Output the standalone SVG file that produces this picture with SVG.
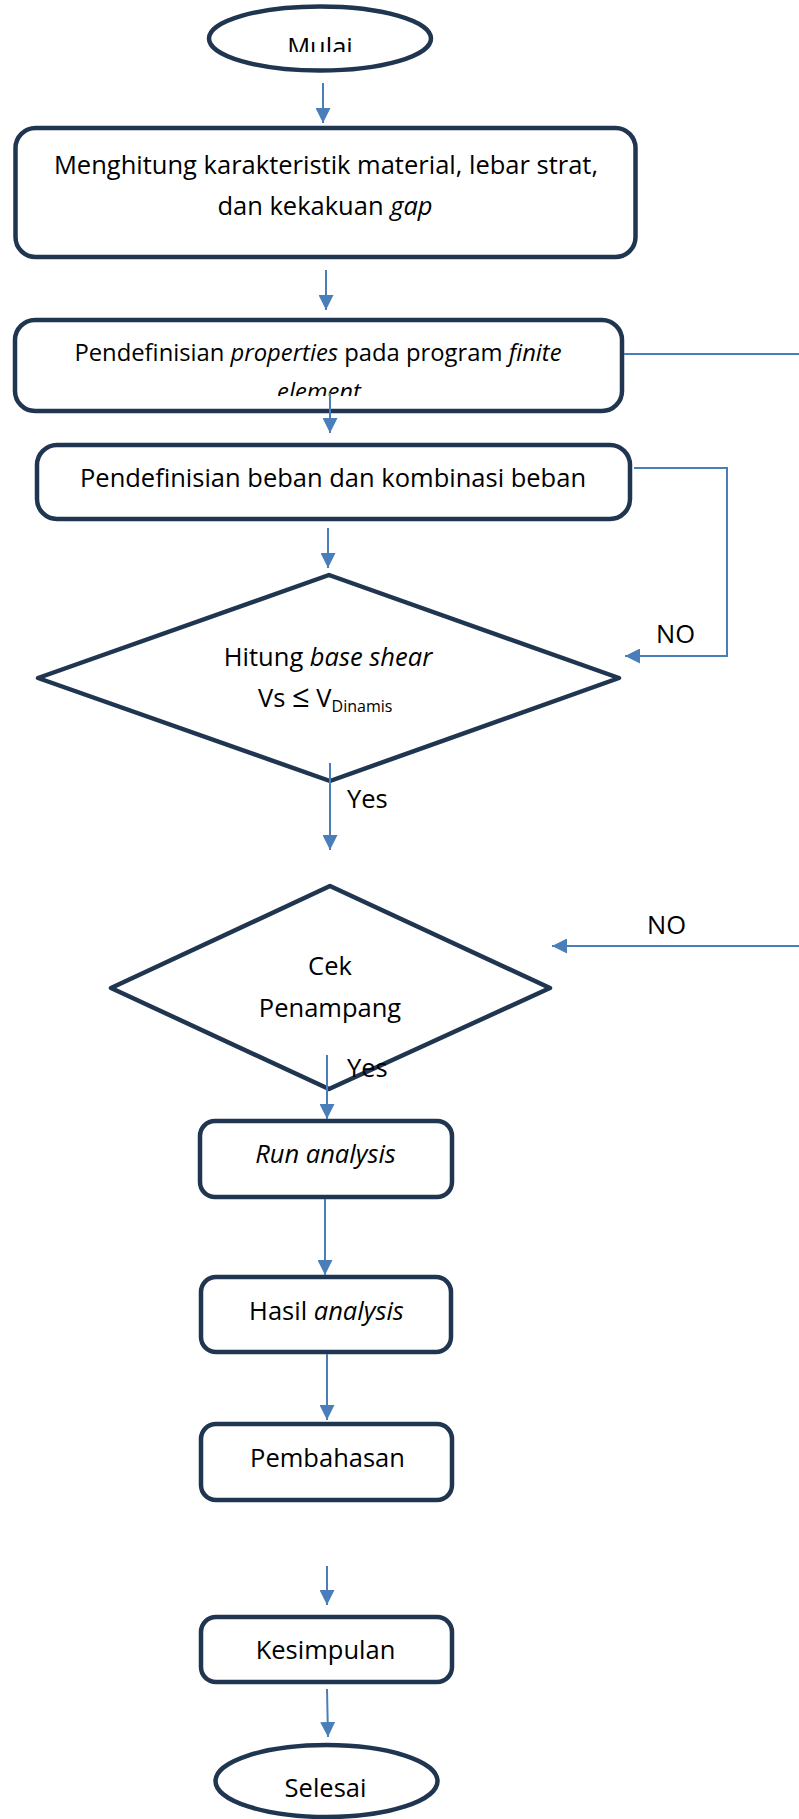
<svg xmlns="http://www.w3.org/2000/svg" width="799" height="1819" viewBox="0 0 799 1819">
<style>
.node{fill:#ffffff;stroke:#1F3550;stroke-width:4.5;stroke-linejoin:round}
.t{font-family:"Open Sans","Liberation Sans",sans-serif;font-size:25.5px;fill:#000000}
.s{font-size:23.8px}
.m{text-anchor:middle}
.i{font-style:italic}
.c{fill:none;stroke:#4A7EBB;stroke-width:2}
</style>
<defs>
<marker id="ah" viewBox="0 0 10 10" refX="10" refY="5" markerWidth="15" markerHeight="15" markerUnits="userSpaceOnUse" orient="auto">
<path d="M0,0 L10,5 L0,10 z" fill="#4A7EBB"/>
</marker>
<clipPath id="clipMulai"><rect x="200" y="0" width="240" height="52"/></clipPath>
<clipPath id="clipElement"><rect x="20" y="330" width="600" height="66"/></clipPath>
</defs>
<rect width="799" height="1819" fill="#ffffff"/>

<g id="mulai">
<ellipse class="node" cx="320" cy="38.5" rx="111" ry="32"/>
<text class="t m" x="320" y="56" clip-path="url(#clipMulai)">Mulai</text>
</g>

<g id="hitung-material">
<rect class="node" x="15.5" y="128" width="620" height="129" rx="20"/>
<text class="t m" x="326" y="174">Menghitung karakteristik material, lebar strat,</text>
<text class="t m" x="325" y="215">dan kekakuan <tspan class="i">gap</tspan></text>
</g>

<g id="properties">
<rect class="node" x="15" y="320" width="607" height="91" rx="20"/>
<text class="t s m" x="318" y="361">Pendefinisian <tspan class="i">properties</tspan> pada program <tspan class="i">finite</tspan></text>
<text class="t s m i" x="319" y="400" clip-path="url(#clipElement)">element</text>
</g>

<g id="beban">
<rect class="node" x="37" y="445" width="593" height="74" rx="20"/>
<text class="t m" x="333" y="487">Pendefinisian beban dan kombinasi beban</text>
</g>

<g id="base-shear">
<polygon class="node" points="329,575 619,678 330,781 38,678"/>
<text class="t m" x="328" y="666">Hitung <tspan class="i">base shear</tspan></text>
<text class="t" x="258" y="707">Vs <tspan font-size="31">≤</tspan> V<tspan font-size="16" dy="5">Dinamis</tspan></text>
</g>

<g id="cek-penampang">
<polygon class="node" points="330,886 550,988 329,1089 111,988"/>
<text class="t m" x="330" y="975">Cek</text>
<text class="t m" x="330" y="1017">Penampang</text>
</g>

<g id="run-analysis">
<rect class="node" x="200" y="1121" width="252" height="76" rx="15"/>
<text class="t m i" x="325.5" y="1163">Run analysis</text>
</g>

<g id="hasil-analysis">
<rect class="node" x="201" y="1277" width="250" height="75" rx="15"/>
<text class="t m" x="326.5" y="1320">Hasil <tspan class="i">analysis</tspan></text>
</g>

<g id="pembahasan">
<rect class="node" x="201" y="1424" width="251" height="76" rx="15"/>
<text class="t m" x="327.5" y="1467">Pembahasan</text>
</g>

<g id="kesimpulan">
<rect class="node" x="201" y="1617" width="251" height="65" rx="15"/>
<text class="t m" x="325.5" y="1659">Kesimpulan</text>
</g>

<g id="selesai">
<ellipse class="node" cx="326.5" cy="1781" rx="111" ry="36"/>
<text class="t m" x="325.5" y="1797">Selesai</text>
</g>

<g id="connectors">
<path class="c" d="M323,83 V123" marker-end="url(#ah)"/>
<path class="c" d="M326,270 V310" marker-end="url(#ah)"/>
<path class="c" d="M330,393 V433" marker-end="url(#ah)"/>
<path class="c" d="M328,528 V568" marker-end="url(#ah)"/>
<path class="c" d="M330,763 V850" marker-end="url(#ah)"/>
<path class="c" d="M327,1055 V1119" marker-end="url(#ah)"/>
<path class="c" d="M325,1199 V1275" marker-end="url(#ah)"/>
<path class="c" d="M327,1354 V1420" marker-end="url(#ah)"/>
<path class="c" d="M327,1566 V1605" marker-end="url(#ah)"/>
<path class="c" d="M327,1689 L328,1737" marker-end="url(#ah)"/>
<path class="c" d="M634,468 H727 V656 H625" marker-end="url(#ah)"/>
<path class="c" d="M624,354 H799"/>
<path class="c" d="M799,946 H552" marker-end="url(#ah)"/>
<text class="t" x="656" y="643">NO</text>
<text class="t" x="647" y="934">NO</text>
<text class="t" x="347" y="808">Yes</text>
<text class="t" x="347" y="1077">Yes</text>
</g>
</svg>
